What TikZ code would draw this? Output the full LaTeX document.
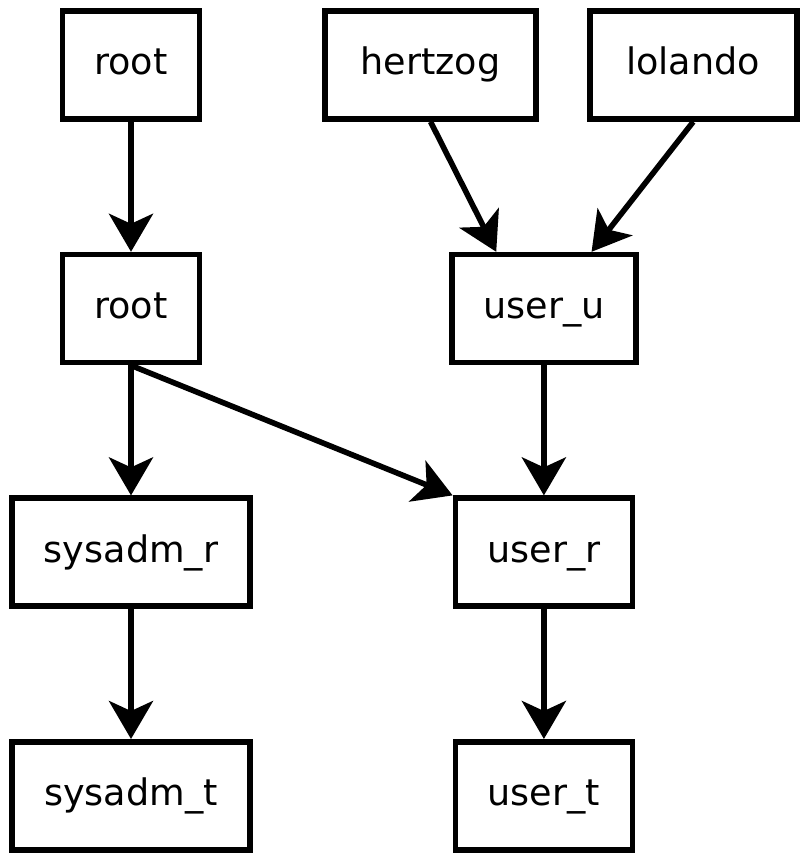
\documentclass[tikz,border=0pt]{standalone}
\usepackage{fontspec}
\setmainfont{DejaVu Sans}
\usetikzlibrary{graphs, positioning, arrows.meta}

\begin{document}
\begin{tikzpicture}[node distance=3.25cm, line width=0.14cm,
		role/.style={draw, rectangle, minimum height=2.7cm, text height=20pt, text depth=6pt,
			font=\fontsize{26}{30}\selectfont},
		>={Stealth[length=0.95cm, width=1.1cm, inset=0.25cm]}]
		\useasboundingbox (0,0) rectangle (20,-21.375);
		\node[role, minimum width=3.425cm] at (3.275,-1.625) (rootu) {root};
		\node[role, minimum width=5.275cm, right=3.0cm of rootu] (hertzog) {hertzog};
		\node[role, minimum width=5.175cm, right=1.2cm of hertzog] (lolando) {lolando};
		\node[role, minimum width=3.425cm, below=of rootu]       (rootr) {root};
		\node[role, minimum width=4.6cm, right=6.17cm of rootr]  (useru) {user\_u};
		\node[role, minimum width=5.95cm, below=of rootr]        (sysadmr) {sysadm\_r};
		\node[role, minimum width=5.95cm, below=of sysadmr]      (sysadmt) {sysadm\_t};
		\node[role, minimum width=4.425cm, below=of useru]       (userr) {user\_r};
		\node[role, minimum width=4.425cm, below=of userr]       (usert) {user\_t};
		
		\graph{
			(rootu) -> (rootr) -> (sysadmr) -> (sysadmt);
			(useru) -> (userr) -> (usert);
		};
		\draw[->] (hertzog.south) -- (useru.130);
		\draw[->] (lolando.south) -- (useru.50);
		\draw[->] (rootr.south) -- (userr.north west);
	\end{tikzpicture}
\end{document}
